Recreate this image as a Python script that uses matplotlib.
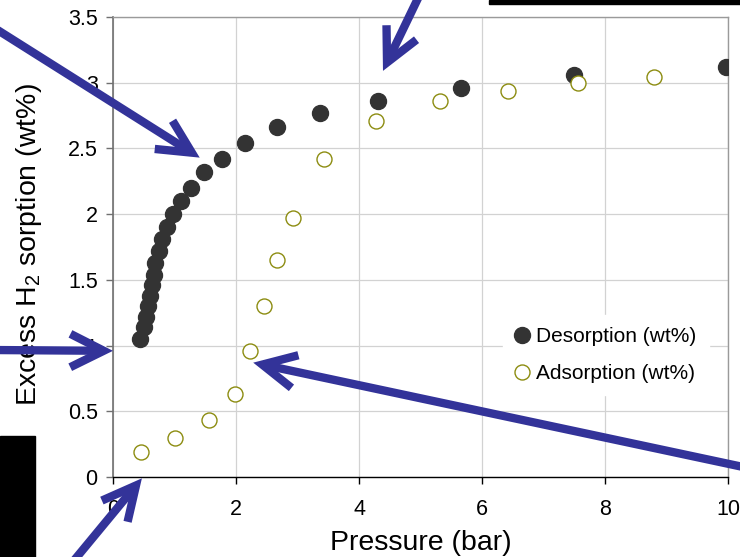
import matplotlib
matplotlib.use("Agg")
import matplotlib.pyplot as plt
from matplotlib.patches import Rectangle

plt.rcParams["font.family"] = ["Liberation Sans", "DejaVu Sans"]
plt.rcParams["mathtext.fontset"] = "custom"
plt.rcParams["mathtext.rm"] = "Liberation Sans"
plt.rcParams["mathtext.it"] = "Liberation Sans:italic"
plt.rcParams["mathtext.bf"] = "Liberation Sans:bold"

# Desorption branch (filled markers)
des_pressure = [9.97, 7.50, 5.66, 4.31, 3.37, 2.66, 2.15, 1.78, 1.48, 1.27,
                1.11, 0.98, 0.88, 0.80, 0.74, 0.69, 0.66, 0.63, 0.60, 0.57,
                0.54, 0.50, 0.44]
des_wt = [3.12, 3.06, 2.96, 2.86, 2.77, 2.66, 2.54, 2.42, 2.32, 2.20,
          2.10, 2.00, 1.90, 1.81, 1.72, 1.63, 1.54, 1.46, 1.38, 1.30,
          1.22, 1.14, 1.05]

# Adsorption branch (open markers)
ads_pressure = [0.46, 1.01, 1.56, 1.98, 2.23, 2.45, 2.66, 2.92, 3.43, 4.28,
                5.32, 6.43, 7.56, 8.79]
ads_wt = [0.19, 0.30, 0.43, 0.63, 0.96, 1.30, 1.65, 1.97, 2.42, 2.71,
          2.86, 2.94, 3.00, 3.04]

x_ticks = [0, 2, 4, 6, 8, 10]
y_ticks = [0, 0.5, 1, 1.5, 2, 2.5, 3, 3.5]

# Callout arrows: (tip pressure, tip wt%, tail x px, tail y px from top)
arrow_tips_x = [1.41, 4.39, 0.0, 0.47, 2.28]
arrow_tips_y = [2.43, 3.09, 0.96, -0.01, 0.87]
arrow_tails = [(-12, 24), (422, -10), (-10, 350), (62, 575), (762, 471)]

W, H = 740, 557
fig = plt.figure(figsize=(W / 100, H / 100), dpi=100)
ax = fig.add_axes([113 / W, 1 - 477 / H, 615 / W, 460 / H])

ax.plot(des_pressure, des_wt, linestyle="none", marker="o", markersize=11.5,
        markerfacecolor="#333333", markeredgecolor="#333333",
        label="Desorption (wt%)", zorder=3)
ax.plot(ads_pressure, ads_wt, linestyle="none", marker="o", markersize=10.8,
        markerfacecolor="white", markeredgecolor="#8c8c10", markeredgewidth=1.0,
        label="Adsorption (wt%)", zorder=4)

ax.set_xlim(0, 10)
ax.set_ylim(0, 3.5)
ax.set_xticks(x_ticks)
ax.set_yticks(y_ticks)
ax.set_xticklabels([str(v) for v in x_ticks])
ax.set_yticklabels([f"{v:g}" for v in y_ticks])
ax.grid(True, color="#d2d2d2", linewidth=0.9)
ax.set_axisbelow(True)

for side in ("top", "right"):
    ax.spines[side].set_color("#9a9a9a")
    ax.spines[side].set_linewidth(1.0)
ax.spines["left"].set_color("#707070")
ax.spines["left"].set_linewidth(1.2)
ax.spines["bottom"].set_color("black")
ax.spines["bottom"].set_linewidth(1.0)

ax.tick_params(axis="y", direction="out", length=5, width=1.0, colors="#707070",
               labelcolor="black", labelsize=15.5, pad=6)
ax.tick_params(axis="x", direction="out", length=5, width=1.0, colors="black",
               labelsize=15.5, pad=11)

ax.set_xlabel("Pressure (bar)", fontsize=20.5, va="center")
ax.xaxis.set_label_coords((421 - 113) / 615, (477 - 543) / 460)
ax.set_ylabel("Excess H$_2$ sorption (wt%)", fontsize=20.5, va="center")
ax.yaxis.set_label_coords((29 - 113) / 615, (477 - 245) / 460)

leg = ax.legend(loc="center", bbox_to_anchor=((606 - 113) / 615, (477 - 355) / 460),
                fontsize=15, frameon=True, fancybox=False, framealpha=1.0,
                edgecolor="white", facecolor="white", handlelength=0.6,
                handletextpad=0.4, labelspacing=0.85, borderpad=0.6)
leg.set_zorder(5)

for tx, ty, (px, py) in zip(arrow_tips_x, arrow_tips_y, arrow_tails):
    ax.annotate("", xy=(tx, ty), xycoords="data",
                xytext=(px, H - py), textcoords="figure pixels",
                annotation_clip=False, zorder=10,
                arrowprops=dict(arrowstyle="->,head_length=1.2,head_width=0.6",
                                color="#333399", lw=6, mutation_scale=20,
                                shrinkA=0, shrinkB=0, joinstyle="miter",
                                capstyle="butt"))

# Dark slide fragments at the edges
fig.add_artist(Rectangle((0, 0), 35 / W, 121 / H, transform=fig.transFigure,
                         color="black", zorder=1))
fig.add_artist(Rectangle((489 / W, 1 - 4 / H), 251 / W, 4 / H,
                         transform=fig.transFigure, color="black", zorder=1))

fig.savefig("out.png", dpi=100)
